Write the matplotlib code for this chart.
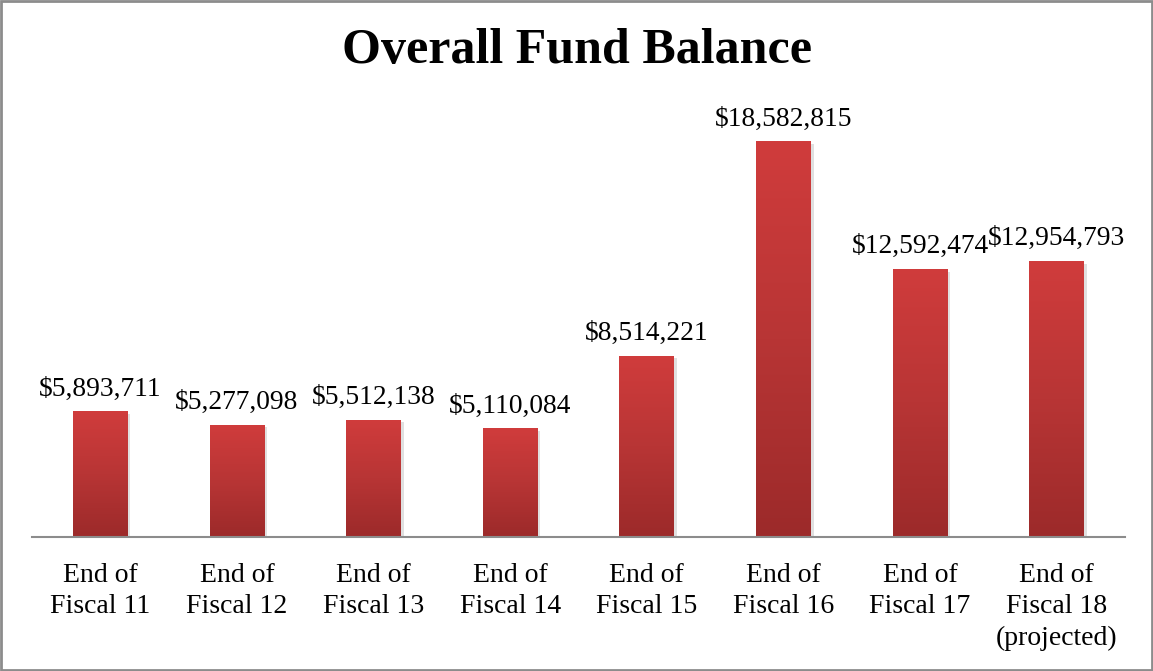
import numpy as np
import matplotlib.pyplot as plt
import matplotlib.patheffects as pe
from matplotlib.colors import LinearSegmentedColormap
from matplotlib.patches import Rectangle

categories = ["End of\nFiscal 11", "End of\nFiscal 12", "End of\nFiscal 13", "End of\nFiscal 14",
              "End of\nFiscal 15", "End of\nFiscal 16", "End of\nFiscal 17",
              "End of\nFiscal 18\n(projected)"]
balances = [5893711, 5277098, 5512138, 5110084, 8514221, 18582815, 12592474, 12954793]

plt.rcParams['font.family'] = ['Liberation Serif', 'DejaVu Serif']

fig = plt.figure(figsize=(11.53, 6.71), dpi=100)
ax = fig.add_axes([32 / 1153, 134 / 671, 1093 / 1153, 426 / 671])

x = np.arange(len(categories))
bars = ax.bar(x, balances, width=0.40, color='#b83434', zorder=2,
              path_effects=[pe.SimplePatchShadow(offset=(2, -2), shadow_rgbFace='#999999', alpha=0.3),
                            pe.Normal()])

# vertical red gradient on each bar
grad_cmap = LinearSegmentedColormap.from_list('redgrad', ['#9c2a2a', '#b83535', '#d03c3c'])
grad = np.linspace(0, 1, 256).reshape(-1, 1)
for b in bars:
    x0, w, h = b.get_x(), b.get_width(), b.get_height()
    im = ax.imshow(grad, cmap=grad_cmap, origin='lower', aspect='auto',
                   extent=(x0, x0 + w, 0, h), zorder=3)
    im.set_clip_path(b)

for xi, v in zip(x, balances):
    ax.annotate(f"${v:,}", (xi, v), xytext=(0, 7), textcoords='offset points',
                ha='center', va='bottom', fontsize=19.8, zorder=4)

ax.set_xlim(-0.5, len(categories) - 0.5)
ax.set_ylim(0, 20000000)
ax.set_xticks(x)
ax.set_xticklabels(categories, fontsize=20, linespacing=1.32)
ax.tick_params(axis='x', length=0, pad=19)
ax.set_yticks([])
for s in ['top', 'right', 'left']:
    ax.spines[s].set_visible(False)
ax.spines['bottom'].set_color('#8c8c8c')
ax.spines['bottom'].set_linewidth(1.5)
ax.spines['bottom'].set_zorder(5)

fig.text(0.5, 1 - 51 / 671, "Overall Fund Balance", ha='center', va='center',
         fontsize=36, fontweight='bold')

fig.patches.append(Rectangle((0.001, 0.001), 0.998, 0.997, transform=fig.transFigure,
                             fill=False, edgecolor='#8c8c8c', linewidth=2))

fig.savefig('out.png', dpi=100)
